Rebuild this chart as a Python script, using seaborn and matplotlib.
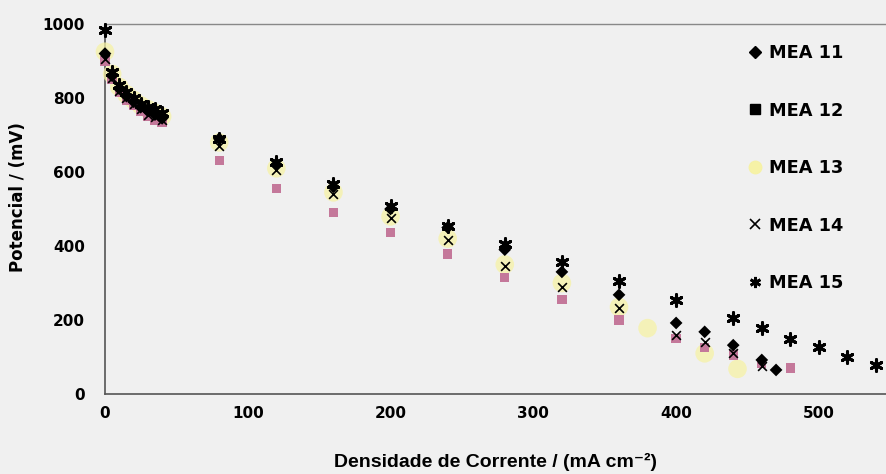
import matplotlib
matplotlib.use("Agg")
import matplotlib.pyplot as plt
from matplotlib.lines import Line2D
import seaborn as sns
import pandas as pd

# ---- data ----
series_names = ["MEA 11", "MEA 12", "MEA 13", "MEA 14", "MEA 15"]

mea11_x = [0, 5, 10, 15, 20, 25, 30, 35, 40, 80, 120, 160, 200, 240, 280, 320, 360, 400, 420, 440, 460, 470]
mea11_y = [920, 860, 825, 805, 790, 775, 765, 755, 745, 690, 620, 560, 500, 450, 390, 330, 268, 192, 168, 132, 92, 65]

mea12_x = [0, 5, 10, 15, 20, 25, 30, 35, 40, 80, 120, 160, 200, 240, 280, 320, 360, 400, 420, 440, 460, 480]
mea12_y = [900, 850, 815, 795, 780, 765, 750, 740, 735, 632, 555, 490, 437, 378, 315, 255, 200, 150, 125, 105, 82, 70]

mea13_x = [0, 5, 10, 15, 20, 25, 30, 35, 40, 80, 120, 160, 200, 240, 280, 320, 360, 380, 420, 443]
mea13_y = [925, 865, 830, 810, 795, 780, 770, 760, 750, 680, 610, 545, 480, 420, 350, 300, 235, 178, 110, 68]

mea14_x = [0, 5, 10, 15, 20, 25, 30, 35, 40, 80, 120, 160, 200, 240, 280, 320, 360, 400, 420, 440, 460]
mea14_y = [905, 855, 820, 800, 785, 770, 755, 748, 740, 670, 605, 540, 475, 415, 345, 290, 232, 160, 140, 112, 75]

mea15_x = [0, 5, 10, 15, 20, 25, 30, 35, 40, 80, 120, 160, 200, 240, 280, 320, 360, 400, 440, 460, 480, 500, 520, 540]
mea15_y = [985, 870, 835, 815, 800, 785, 775, 770, 760, 690, 627, 568, 507, 455, 405, 357, 305, 255, 205, 178, 150, 127, 100, 78]

x_ticks = [0, 100, 200, 300, 400, 500]
y_ticks = [0, 200, 400, 600, 800, 1000]

xs = [mea11_x, mea12_x, mea13_x, mea14_x, mea15_x]
ys = [mea11_y, mea12_y, mea13_y, mea14_y, mea15_y]
rows = []
for name, xv, yv in zip(series_names, xs, ys):
    for a, b in zip(xv, yv):
        rows.append({"x": a, "y": b, "serie": name})
df = pd.DataFrame(rows)

# ---- style ----
sns.set_theme(style="white")
bg = "#f0f0f0"
plt.rcParams["font.family"] = ["DejaVu Sans"]
plt.rcParams["font.weight"] = "bold"
plt.rcParams["text.color"] = "black"
plt.rcParams["axes.labelcolor"] = "black"
plt.rcParams["xtick.color"] = "black"
plt.rcParams["ytick.color"] = "black"

fig = plt.figure(figsize=(8.86, 4.74), dpi=100, facecolor=bg)
ax = fig.add_axes([105 / 886, 1 - 394 / 474, 1 - 105 / 886, (394 - 24) / 474])
ax.set_facecolor(bg)

styles = {
    "MEA 13": dict(marker="o", color="#f6f2a6", s=180, edgecolor="none", alpha=0.75),
    "MEA 12": dict(marker="s", color="#c4789a", s=45, edgecolor="none"),
    "MEA 14": dict(marker="x", color="black", s=40, linewidth=1.2),
    "MEA 11": dict(marker="D", color="black", s=42, edgecolor="none"),
    "MEA 15": dict(marker=(6, 2, 0), color="black", s=70, linewidth=2.2),
}
for name in ["MEA 13", "MEA 12", "MEA 14", "MEA 11", "MEA 15"]:
    sub = df[df["serie"] == name]
    sns.scatterplot(data=sub, x="x", y="y", ax=ax, legend=False, zorder=3,
                    clip_on=False, **styles[name])

ax.set_xlim(0, 547)
ax.set_ylim(0, 1000)
ax.set_xticks(x_ticks)
ax.set_yticks(y_ticks)
ax.tick_params(axis="both", labelsize=11, direction="inout", length=5,
               width=1, color="#555555", labelcolor="black")
ax.tick_params(axis="x", pad=6.5)
ax.tick_params(axis="y", pad=12)
for lab in ax.get_xticklabels() + ax.get_yticklabels():
    lab.set_fontweight("bold")

ax.spines["right"].set_visible(False)
ax.spines["top"].set_color("#888888")
ax.spines["top"].set_linewidth(1.0)
for side in ["left", "bottom"]:
    ax.spines[side].set_color("#555555")
    ax.spines[side].set_linewidth(1.2)

ax.set_xlabel("Densidade de Corrente / (mA cm⁻²)", fontsize=14, fontweight="bold",
              family=["Liberation Sans", "DejaVu Sans"])
ax.xaxis.label.set_va("center")
ax.xaxis.set_label_coords(0.5, (394 - 462) / 370)
ax.set_ylabel("Potencial / (mV)", fontsize=12, fontweight="bold")
ax.yaxis.label.set_va("center")
ax.yaxis.set_label_coords((18 - 105) / 781, (394 - 197) / 370)

handles = [
    Line2D([], [], marker="D", color="black", linestyle="none", markersize=6),
    Line2D([], [], marker="s", color="black", linestyle="none", markersize=7),
    Line2D([], [], marker="o", color="#f6f2a6", linestyle="none", markersize=9),
    Line2D([], [], marker="x", color="black", linestyle="none", markersize=7, markeredgewidth=1.2),
    Line2D([], [], marker=(6, 2, 0), color="black", linestyle="none", markersize=8, markeredgewidth=2),
]
leg = fig.legend(handles, series_names, loc="upper left",
                 bbox_to_anchor=(741 / 886, 1 - 37 / 474), borderaxespad=0, borderpad=0.4,
                 frameon=False, prop={"weight": "bold", "size": 12.8}, labelspacing=2.22,
                 handlelength=0.8, handletextpad=0.35)

fig.savefig("out.png", dpi=100, facecolor=bg)
